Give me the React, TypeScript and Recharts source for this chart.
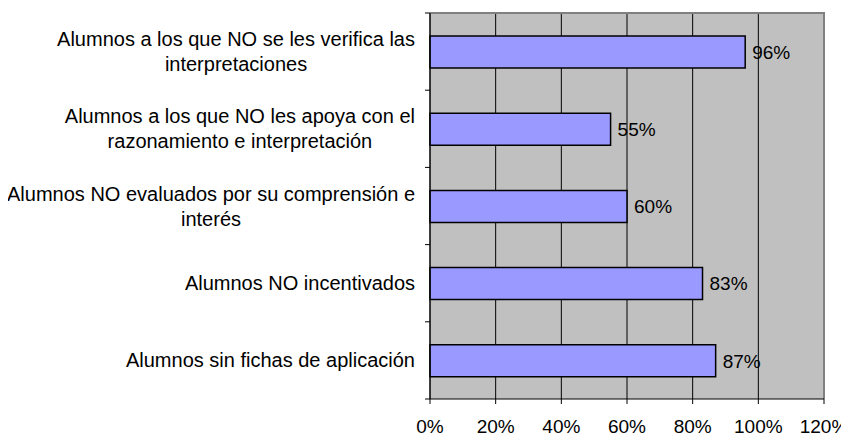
import React from "react";
import {
  BarChart,
  Bar,
  XAxis,
  YAxis,
  CartesianGrid,
  ReferenceArea,
  LabelList,
} from "recharts";

const CATEGORIES = [
  "Alumnos a los que NO se les verifica las interpretaciones",
  "Alumnos a los que NO les apoya con el razonamiento e interpretación",
  "Alumnos NO evaluados por su comprensión e interés",
  "Alumnos NO incentivados",
  "Alumnos sin fichas de aplicación",
];
const VALUES = [96, 55, 60, 83, 87];
const X_TICKS = [0, 20, 40, 60, 80, 100, 120];

const FONT = "'Liberation Sans', Arial, sans-serif";
const CAT_SIZE = 20;
const NUM_SIZE = 19;
const Y_AXIS_W = 422;
const PLOT_W = 394;
const PLOT_H = 386;

const data = CATEGORIES.map((name, i) => ({ name, value: VALUES[i] }));

let ctx: CanvasRenderingContext2D | null = null;
function measure(text: string) {
  if (!ctx) {
    ctx = document.createElement("canvas").getContext("2d");
  }
  if (!ctx) return text.length * CAT_SIZE * 0.5;
  ctx.font = `${CAT_SIZE}px ${FONT}`;
  return ctx.measureText(text).width;
}

function wrap(text: string, maxW: number) {
  const words = text.split(" ");
  const lines: string[] = [];
  let cur = "";
  for (const w of words) {
    const next = cur ? cur + " " + w : w;
    if (cur && measure(next) > maxW) {
      lines.push(cur);
      cur = w;
    } else {
      cur = next;
    }
  }
  if (cur) lines.push(cur);
  return lines;
}

function CategoryTick(props: any) {
  const { x, y, payload, index } = props;
  const half = payload && payload.offset ? payload.offset : PLOT_H / (2 * CATEGORIES.length);
  const axisX = Y_AXIS_W;
  const lines = wrap(String(payload.value), 412);
  const widest = Math.max(...lines.map(measure));
  const cx = x - widest / 2;
  const lineH = 25;
  const startY = y - ((lines.length - 1) * lineH) / 2;
  return (
    <g>
      <line x1={axisX - 5} x2={axisX} y1={y - half} y2={y - half} stroke="#000" />
      {index === CATEGORIES.length - 1 && (
        <line x1={axisX - 5} x2={axisX} y1={y + half} y2={y + half} stroke="#000" />
      )}
      <text
        x={cx}
        y={startY}
        textAnchor="middle"
        dominantBaseline="central"
        fontSize={CAT_SIZE}
        fontFamily={FONT}
        fill="#000"
      >
        {lines.map((l, i) => (
          <tspan key={i} x={cx} dy={i === 0 ? 0 : lineH}>
            {l}
          </tspan>
        ))}
      </text>
    </g>
  );
}

export default function App() {
  return (
    <div style={{ width: 841, height: 428 }}>
      <BarChart
        width={841}
        height={428}
        data={data}
        layout="vertical"
        margin={{ top: 5, right: 25, bottom: 0, left: 0 }}
        barSize={32}
      >
        <CartesianGrid
          horizontal={false}
          stroke="#000"
          fill="#C0C0C0"
          fillOpacity={1}
        />
        <ReferenceArea
          x1={0}
          x2={120}
          fill="none"
          stroke="#808080"
          strokeWidth={2}
          strokeDasharray={`${PLOT_W + PLOT_H} ${PLOT_W + PLOT_H + 20}`}
        />
        <XAxis
          type="number"
          domain={[0, 120]}
          ticks={X_TICKS}
          interval={0}
          tickFormatter={(v) => `${v}%`}
          axisLine={{ stroke: "#000" }}
          tickLine={{ stroke: "#000" }}
          tickSize={5}
          tickMargin={16}
          height={37}
          tick={{ fill: "#000", fontSize: NUM_SIZE, fontFamily: FONT }}
        />
        <YAxis
          type="category"
          dataKey="name"
          width={Y_AXIS_W}
          axisLine={{ stroke: "#000" }}
          tickLine={false}
          tickSize={5}
          tickMargin={10}
          interval={0}
          tick={<CategoryTick />}
        />
        <Bar
          dataKey="value"
          fill="#9999FF"
          stroke="#000"
          strokeWidth={1.5}
          isAnimationActive={false}
        >
          <LabelList
            dataKey="value"
            position="right"
            offset={7}
            formatter={(v: any) => `${v}%`}
            fill="#000"
            fontSize={NUM_SIZE}
            fontFamily={FONT}
          />
        </Bar>
      </BarChart>
    </div>
  );
}
